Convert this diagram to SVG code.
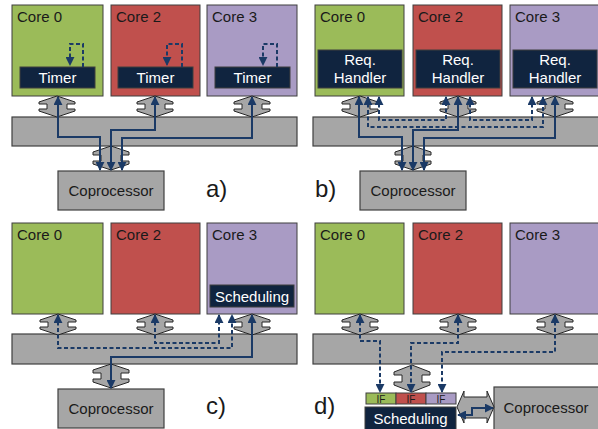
<svg xmlns="http://www.w3.org/2000/svg" xmlns:xlink="http://www.w3.org/1999/xlink" width="598" height="429" viewBox="0 0 598 429">
<style>
.core{stroke:#3F3F3F;stroke-width:1}
.g{fill:#9BBB59}.r{fill:#C0504D}.p{fill:#A99BC4}
.box{fill:#10243F;stroke:#3F3F3F;stroke-width:1}
.bus{fill:#A6A6A6;stroke:#404040;stroke-width:1.2}
.conn{fill:#A6A6A6;stroke:#262626;stroke-width:1}
.t{font-family:"Liberation Sans",Arial,sans-serif;font-size:15px;fill:#1A1A1A}
.w{fill:#FFFFFF;text-anchor:middle}
.m{text-anchor:middle}
.big{font-size:24px}
.small{font-size:10px}
.s{fill:none;stroke:#1B3A66;stroke-width:2}
.d{fill:none;stroke:#1B3A66;stroke-width:2;stroke-dasharray:4 2.5}
</style>
<defs>
<marker id="ah" viewBox="0 0 10 10" refX="9" refY="5" markerWidth="9" markerHeight="9" markerUnits="userSpaceOnUse" orient="auto-start-reverse"><path d="M0,0 L10,5 L0,10 z" fill="#1B3A66"/></marker>
<path id="vc" class="conn" d="M0,0 L18,6 L18,8 L10,8 L10,13 L18,13 L18,15 L0,21 L-18,15 L-18,13 L-10,13 L-10,8 L-18,8 L-18,6 Z"/>
<path id="vc2" class="conn" d="M0,0 L18,6 L18,9 L10,9 L10,15 L18,15 L18,18 L0,24 L-18,18 L-18,15 L-10,15 L-10,9 L-18,9 L-18,6 Z"/>
<path id="vc3" class="conn" d="M0,0 L18,7 L18,10 L10,10 L10,17 L18,17 L18,20 L0,27 L-18,20 L-18,17 L-10,17 L-10,10 L-18,10 L-18,7 Z"/>
</defs>
<rect width="598" height="429" fill="#FFFFFF"/>

<!-- ===== Panel a ===== -->
<g id="a-core0"><rect class="core g" x="12" y="5" width="91" height="91"/><text class="t" x="17" y="22">Core 0</text>
<rect class="box" x="20" y="67" width="75" height="21"/><text class="t w" x="57.5" y="83">Timer</text></g>
<g id="a-core2"><rect class="core r" x="111" y="5" width="89" height="91"/><text class="t" x="116" y="22">Core 2</text>
<rect class="box" x="118" y="67" width="75" height="21"/><text class="t w" x="155.5" y="83">Timer</text></g>
<g id="a-core3"><rect class="core p" x="207" y="5" width="90" height="91"/><text class="t" x="212" y="22">Core 3</text>
<rect class="box" x="215" y="67" width="75" height="21"/><text class="t w" x="252.5" y="83">Timer</text></g>
<g id="a-bus"><rect class="bus" x="12" y="117" width="285" height="29"/></g>
<g id="a-coproc"><rect class="bus" x="58" y="171" width="106" height="39"/><text class="t m" x="111" y="196">Coprocessor</text></g>
<text class="t big" x="206" y="197">a)</text>

<!-- ===== Panel b ===== -->
<g id="b-core0"><rect class="core g" x="315" y="5" width="89" height="91"/><text class="t" x="320" y="22">Core 0</text>
<rect class="box" x="318" y="50" width="84" height="38"/><text class="t w" x="360" y="65">Req.</text><text class="t w" x="360" y="83">Handler</text></g>
<g id="b-core2"><rect class="core r" x="413" y="5" width="89" height="91"/><text class="t" x="418" y="22">Core 2</text>
<rect class="box" x="416" y="50" width="84" height="38"/><text class="t w" x="458" y="65">Req.</text><text class="t w" x="458" y="83">Handler</text></g>
<g id="b-core3"><rect class="core p" x="510" y="5" width="89" height="91"/><text class="t" x="515" y="22">Core 3</text>
<rect class="box" x="513" y="50" width="84" height="38"/><text class="t w" x="555" y="65">Req.</text><text class="t w" x="555" y="83">Handler</text></g>
<g id="b-bus"><rect class="bus" x="313" y="117" width="286" height="29"/></g>
<g id="b-coproc"><rect class="bus" x="360" y="171" width="106" height="39"/><text class="t m" x="413" y="196">Coprocessor</text></g>
<text class="t big" x="315" y="197">b)</text>

<!-- ===== Panel c ===== -->
<g id="c-core0"><rect class="core g" x="12" y="223" width="91" height="91"/><text class="t" x="17" y="240">Core 0</text></g>
<g id="c-core2"><rect class="core r" x="111" y="223" width="89" height="91"/><text class="t" x="116" y="240">Core 2</text></g>
<g id="c-core3"><rect class="core p" x="207" y="223" width="90" height="91"/><text class="t" x="212" y="240">Core 3</text>
<rect class="box" x="210" y="285" width="84" height="22"/><text class="t w" x="252" y="302">Scheduling</text></g>
<g id="c-bus"><rect class="bus" x="12" y="334" width="285" height="30"/></g>
<g id="c-coproc"><rect class="bus" x="58" y="389" width="106" height="39"/><text class="t m" x="111" y="414">Coprocessor</text></g>
<text class="t big" x="206" y="414">c)</text>

<!-- ===== Panel d ===== -->
<g id="d-core0"><rect class="core g" x="315" y="223" width="89" height="91"/><text class="t" x="320" y="240">Core 0</text></g>
<g id="d-core2"><rect class="core r" x="413" y="223" width="89" height="91"/><text class="t" x="418" y="240">Core 2</text></g>
<g id="d-core3"><rect class="core p" x="510" y="223" width="89" height="91"/><text class="t" x="515" y="240">Core 3</text></g>
<g id="d-bus"><rect class="bus" x="313" y="334" width="286" height="30"/></g>
<g id="d-if"><rect class="core g" x="366" y="393" width="30" height="11"/><rect class="core r" x="396" y="393" width="30" height="11"/><rect class="core p" x="426" y="393" width="30" height="11"/>
<text class="t small m" x="381" y="402.5">IF</text><text class="t small m" x="411" y="402.5">IF</text><text class="t small m" x="441" y="402.5">IF</text></g>
<g id="d-sched"><rect class="box" x="365" y="407" width="91" height="23"/><text class="t w" x="410.5" y="424">Scheduling</text></g>
<g id="d-coproc"><rect class="bus" x="494" y="387" width="105" height="43"/><text class="t m" x="546" y="413">Coprocessor</text></g>
<text class="t big" x="314" y="414">d)</text>

<!-- ===== Connectors ===== -->
<g id="connectors">
<use href="#vc" x="57" y="96"/><use href="#vc" x="155" y="96"/><use href="#vc" x="252" y="96"/>
<use href="#vc2" x="111" y="146"/>
<use href="#vc" x="360" y="96"/><use href="#vc" x="458" y="96"/><use href="#vc" x="555" y="96"/>
<use href="#vc2" x="413" y="146"/>
<use href="#vc" x="58" y="314"/><use href="#vc" x="155" y="314"/><use href="#vc" x="252" y="314"/>
<use href="#vc2" x="111" y="364"/>
<use href="#vc" x="360" y="314"/><use href="#vc" x="458" y="314"/><use href="#vc" x="555" y="314"/>
<use href="#vc3" x="412" y="365"/>
<path class="conn" d="M457,407 L464,391 L464,397 L487,397 L487,391 L494,407 L487,423 L487,418 L464,418 L464,423 Z"/>

<!-- a -->
<path class="s" marker-start="url(#ah)" marker-end="url(#ah)" d="M58,97 V137 H100 V170"/>
<path class="s" marker-start="url(#ah)" marker-end="url(#ah)" d="M155,97 V130 H111 V170"/>
<path class="s" marker-start="url(#ah)" marker-end="url(#ah)" d="M252,97 V138 H122 V170"/>
<path class="d" marker-end="url(#ah)" d="M83,67 V44 H70 V65"/>
<path class="d" marker-end="url(#ah)" d="M182,67 V44 H167 V65"/>
<path class="d" marker-end="url(#ah)" d="M277,67 V44 H263 V65"/>

<!-- b -->
<path class="s" marker-start="url(#ah)" marker-end="url(#ah)" d="M359,97 V137 H402 V170"/>
<path class="s" marker-start="url(#ah)" marker-end="url(#ah)" d="M458,97 V130 H413 V170"/>
<path class="s" marker-start="url(#ah)" marker-end="url(#ah)" d="M555,97 V138 H424 V170"/>
<path class="d" marker-start="url(#ah)" marker-end="url(#ah)" d="M379,97 V120 H446 V97"/>
<path class="d" marker-start="url(#ah)" marker-end="url(#ah)" d="M368,97 V127 H543 V97"/>
<path class="d" marker-start="url(#ah)" marker-end="url(#ah)" d="M470,97 V120 H532 V97"/>

<!-- c -->
<path class="s" marker-start="url(#ah)" marker-end="url(#ah)" d="M252,315 V357 H111 V388"/>
<path class="d" marker-start="url(#ah)" marker-end="url(#ah)" d="M58,315 V348 H232 V315"/>
<path class="d" marker-start="url(#ah)" marker-end="url(#ah)" d="M155,315 V343 H219 V315"/>

<!-- d -->
<path class="d" marker-start="url(#ah)" marker-end="url(#ah)" d="M360,315 V341 H380 V392"/>
<path class="d" marker-start="url(#ah)" marker-end="url(#ah)" d="M458,315 V343 H411 V392"/>
<path class="d" marker-start="url(#ah)" marker-end="url(#ah)" d="M555,315 V352 H442 V392"/>
<path class="s" marker-start="url(#ah)" marker-end="url(#ah)" d="M458,415 H472 V408 H493"/>
</g>
</svg>
